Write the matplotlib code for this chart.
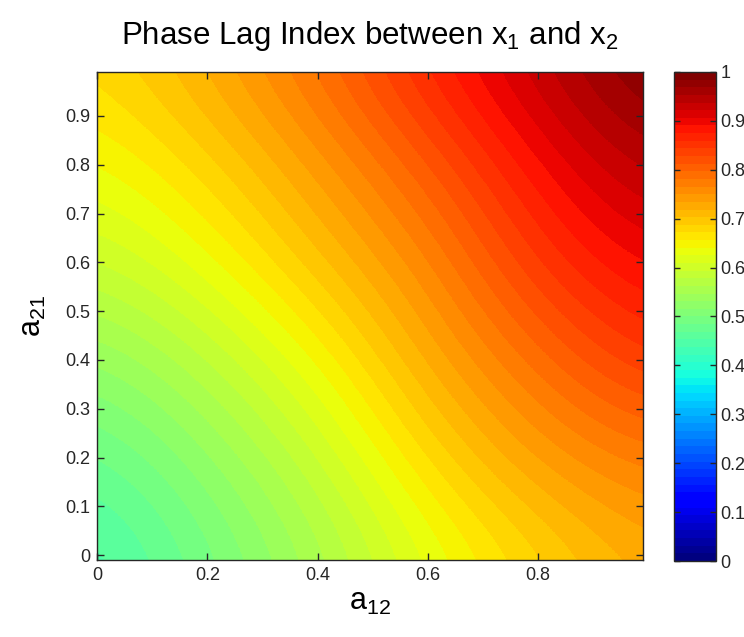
import numpy as np
import matplotlib
matplotlib.use('Agg')
import matplotlib.pyplot as plt

plt.rcParams['font.family'] = ['Liberation Sans', 'DejaVu Sans']
plt.rcParams['mathtext.fontset'] = 'custom'
plt.rcParams['mathtext.rm'] = 'Liberation Sans'
plt.rcParams['mathtext.it'] = 'Liberation Sans:italic'

# coupling strengths (grid)
a12 = np.array([0.0, 0.2, 0.4, 0.6, 0.8, 1.0])
a21 = np.array([0.0, 0.2, 0.4, 0.6, 0.8, 1.0])

# phase lag index, one row per a21 value
pli_a21_00 = [0.437, 0.490, 0.550, 0.625, 0.680, 0.725]
pli_a21_02 = [0.475, 0.525, 0.590, 0.675, 0.740, 0.775]
pli_a21_04 = [0.525, 0.575, 0.640, 0.725, 0.790, 0.850]
pli_a21_06 = [0.590, 0.635, 0.700, 0.760, 0.850, 0.900]
pli_a21_08 = [0.635, 0.680, 0.740, 0.810, 0.890, 0.950]
pli_a21_10 = [0.675, 0.725, 0.790, 0.870, 0.940, 1.000]

pli = np.array([pli_a21_00, pli_a21_02, pli_a21_04,
                pli_a21_06, pli_a21_08, pli_a21_10])

tick_vals = [0, 0.2, 0.4, 0.6, 0.8]
ytick_vals = [0, 0.1, 0.2, 0.3, 0.4, 0.5, 0.6, 0.7, 0.8, 0.9]
cbar_ticks = [0, 0.1, 0.2, 0.3, 0.4, 0.5, 0.6, 0.7, 0.8, 0.9, 1]
cbar_labels = ['0', '0.1', '0.2', '0.3', '0.4', '0.5', '0.6', '0.7', '0.8', '0.9', '1']

fig = plt.figure(figsize=(7.44, 6.37), dpi=100)
ax = fig.add_axes([0.1304, 0.1209, 0.7338, 0.7661])
cax = fig.add_axes([0.906, 0.1193, 0.0565, 0.7677])

dx = a12[1] - a12[0]
dy = a21[1] - a21[0]
im = ax.imshow(pli, origin='lower', cmap=plt.get_cmap('jet', 64),
               vmin=0, vmax=1, aspect='auto',
               interpolation='bicubic', interpolation_stage='data',
               extent=[a12[0] - dx / 2, a12[-1] + dx / 2,
                       a21[0] - dy / 2, a21[-1] + dy / 2])
ax.set_xlim(0, 0.99)
ax.set_ylim(-0.01, 0.99)

ax.set_xticks(tick_vals)
ax.set_xticklabels(['0', '0.2', '0.4', '0.6', '0.8'])
ax.set_yticks(ytick_vals)
ax.set_yticklabels(['0', '0.1', '0.2', '0.3', '0.4', '0.5', '0.6', '0.7', '0.8', '0.9'])
ax.tick_params(direction='in', top=True, right=True, length=5, width=1,
               labelsize=13, colors='#262626', pad=5)
for s in ax.spines.values():
    s.set_color('#262626')
    s.set_linewidth(1)

ax.set_title(r'Phase Lag Index between x$\mathregular{_1}$ and x$\mathregular{_2}$',
             fontsize=22.5, pad=20)
ax.set_xlabel(r'$\mathregular{a_{12}}$', fontsize=22, labelpad=2)
ax.set_ylabel(r'$\mathregular{a_{21}}$', fontsize=22, labelpad=12)

cb = fig.colorbar(im, cax=cax, ticks=cbar_ticks)
cb.set_ticklabels(cbar_labels)
cax.tick_params(direction='in', left=True, right=True, length=4, width=1,
                labelsize=13, colors='#262626', pad=3)
cb.outline.set_edgecolor('#262626')
cb.outline.set_linewidth(1)

fig.savefig('out.png', dpi=100)
